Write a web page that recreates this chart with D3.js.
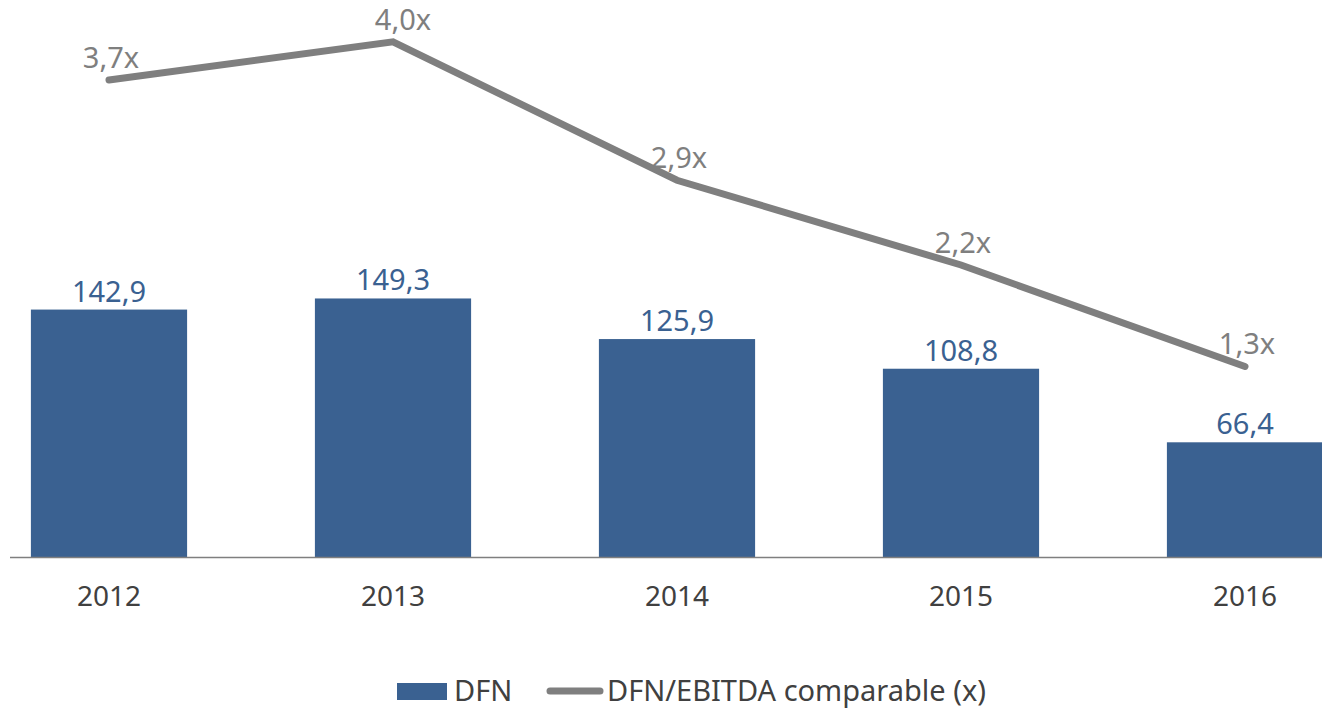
<!DOCTYPE html>
<html>
<head>
<meta charset="utf-8">
<script src="https://cdn.jsdelivr.net/npm/d3@7"></script>
<style>
  html, body { margin: 0; padding: 0; background: #fff; }
  svg { display: block; font-family: "Noto Sans", sans-serif; }
</style>
</head>
<body>
<svg id="chart" width="1322" height="709"></svg>
<script>
const years = ["2012", "2013", "2014", "2015", "2016"];
const dfn = [142.9, 149.3, 125.9, 108.8, 66.4];
const ratio = [3.70, 4.02, 2.86, 2.15, 1.30];
const ratioLabels = ["3,7x", "4,0x", "2,9x", "2,2x", "1,3x"];
const legendLabels = ["DFN", "DFN/EBITDA comparable (x)"];

const W = 1322, H = 709;
const plotTop = 37, plotBottom = 557.5;
const barColor = "#3a6191", lineColor = "#7f7f7f", textColor = "#404040";

const svg = d3.select("#chart");

const x = d3.scaleBand().domain(years).range([-33, 1387]).paddingInner(0.45).paddingOuter(0.225);
const yBar = d3.scaleLinear().domain([0, 300]).range([plotBottom, plotTop]);
const yLine = d3.scaleLinear().domain([-0.3, 4.06]).range([plotBottom, plotTop]);
const fmt = v => d3.format(".1f")(v).replace(".", ",");

// bars
svg.append("g").selectAll("rect").data(years).join("rect")
  .attr("x", d => x(d))
  .attr("width", x.bandwidth())
  .attr("y", (d, i) => yBar(dfn[i]))
  .attr("height", (d, i) => yBar(0) - yBar(dfn[i]))
  .attr("fill", barColor);

// axis
const xAxis = d3.axisBottom(x).tickSize(0).tickPadding(0);
const gx = svg.append("g").attr("transform", `translate(0,${plotBottom})`).call(xAxis);
gx.select(".domain").attr("d", `M10,0H${W}`).attr("stroke", lineColor).attr("stroke-width", 1.3);
gx.selectAll(".tick text").attr("dy", null).attr("y", 48)
  .attr("font-size", 28).attr("fill", textColor).attr("font-family", "Noto Sans, sans-serif");

// bar labels
svg.append("g").selectAll("text").data(years).join("text")
  .attr("x", d => x(d) + x.bandwidth() / 2)
  .attr("y", (d, i) => yBar(dfn[i]) - 8)
  .attr("text-anchor", "middle")
  .attr("font-size", 29)
  .attr("fill", barColor)
  .text((d, i) => fmt(dfn[i]));

// line
const line = d3.line()
  .x((d, i) => x(years[i]) + x.bandwidth() / 2)
  .y(d => yLine(d));
svg.append("path").datum(ratio)
  .attr("d", line)
  .attr("fill", "none")
  .attr("stroke", lineColor)
  .attr("stroke-width", 7)
  .attr("stroke-linecap", "round")
  .attr("stroke-linejoin", "miter");

// line labels
svg.append("g").selectAll("text").data(ratio).join("text")
  .attr("x", (d, i) => x(years[i]) + x.bandwidth() / 2 + (i === 1 ? 10 : 2))
  .attr("y", d => yLine(d) - 12)
  .attr("text-anchor", "middle")
  .attr("font-size", 29)
  .attr("fill", lineColor)
  .text((d, i) => ratioLabels[i]);

// legend
const lg = svg.append("g");
lg.append("rect").attr("x", 397).attr("y", 683).attr("width", 50).attr("height", 17).attr("fill", barColor);
lg.append("text").attr("x", 454).attr("y", 701).attr("font-size", 29).attr("fill", textColor).text(legendLabels[0]);
lg.append("line").attr("x1", 550).attr("x2", 600).attr("y1", 691).attr("y2", 691)
  .attr("stroke", lineColor).attr("stroke-width", 7).attr("stroke-linecap", "round");
lg.append("text").attr("x", 607).attr("y", 701).attr("font-size", 29).attr("fill", textColor).text(legendLabels[1]);
</script>
</body>
</html>
